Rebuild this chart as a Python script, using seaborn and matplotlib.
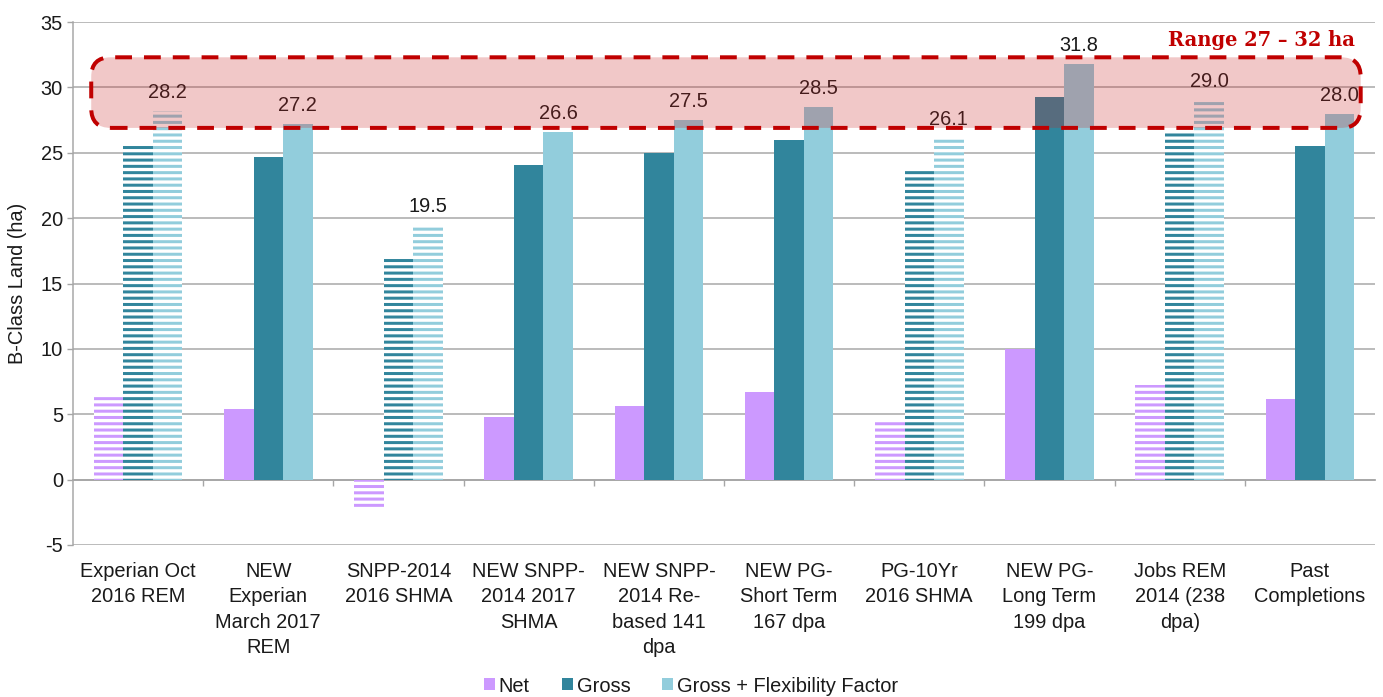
import matplotlib
matplotlib.use("Agg")
import matplotlib.pyplot as plt
import seaborn as sns
import pandas as pd
from matplotlib.patches import FancyBboxPatch, Patch

# ---- data -------------------------------------------------------------
categories = [
    "Experian Oct\n2016 REM",
    "NEW\nExperian\nMarch 2017\nREM",
    "SNPP-2014\n2016 SHMA",
    "NEW SNPP-\n2014 2017\nSHMA",
    "NEW SNPP-\n2014 Re-\nbased 141\ndpa",
    "NEW PG-\nShort Term\n167 dpa",
    "PG-10Yr\n2016 SHMA",
    "NEW PG-\nLong Term\n199 dpa",
    "Jobs REM\n2014 (238\ndpa)",
    "Past\nCompletions",
]
net = [6.3, 5.4, -2.1, 4.8, 5.6, 6.7, 4.4, 10.0, 7.2, 6.2]
gross = [25.7, 24.7, 17.0, 24.1, 25.0, 26.0, 23.6, 29.3, 26.5, 25.5]
gross_flex = [28.2, 27.2, 19.5, 26.6, 27.5, 28.5, 26.1, 31.8, 29.0, 28.0]
# scenarios from the 2016 studies are shown with striped bars
striped = [True, False, True, False, False, False, True, False, True, False]
series_names = ["Net", "Gross", "Gross + Flexibility Factor"]
y_ticks = [-5, 0, 5, 10, 15, 20, 25, 30, 35]
range_low, range_high = 27, 32

# ---- style ------------------------------------------------------------
DPI = 113
W_PX, H_PX = 1383, 697


def pt(px):
    """Convert a size in output pixels to points."""
    return px * 72 / DPI


colors = ["#cc99ff", "#31859c", "#92cddc"]
grid_grey = "#a6a6a6"
text_col = "#1a1a1a"
red = "#c00000"
fs = pt(20)

sns.set_style("white")
plt.rcParams["font.family"] = ["Liberation Sans", "DejaVu Sans"]
plt.rcParams["hatch.linewidth"] = pt(3.0)
plt.rcParams["text.color"] = text_col

fig = plt.figure(figsize=(W_PX / DPI, H_PX / DPI), dpi=DPI)
ax = fig.add_axes([73 / W_PX, 1 - 545 / H_PX, (1375 - 73) / W_PX, (545 - 22) / H_PX])

df = pd.DataFrame({
    "category": categories * 3,
    "series": [s for s in series_names for _ in categories],
    "value": net + gross + gross_flex,
})

sns.barplot(data=df, x="category", y="value", hue="series",
            order=categories, hue_order=series_names, palette=colors,
            width=0.68, saturation=1, linewidth=0, errorbar=None,
            legend=False, ax=ax, zorder=2)

# striped bars: white fill with horizontal hatch in the series colour
for ci, cont in enumerate(ax.containers):
    for i, bar in enumerate(cont):
        if striped[i]:
            bar.set_facecolor("white")
            bar.set_edgecolor(colors[ci])
            bar.set_hatch("---")
            bar.set_linewidth(0)

# value labels above the "Gross + Flexibility Factor" bars
for i, bar in enumerate(ax.containers[2]):
    ax.annotate(f"{gross_flex[i]:.1f}",
                xy=(bar.get_x() + bar.get_width() / 2, gross_flex[i]),
                xytext=(0, pt(13)), textcoords="offset points",
                ha="center", va="baseline", fontsize=fs, color=text_col,
                zorder=3)

# axes
ax.set_xlim(-0.5, len(categories) - 0.5)
ax.set_ylim(y_ticks[0], y_ticks[-1])
ax.set_yticks(y_ticks)
ax.set_yticklabels([str(t) for t in y_ticks])
ax.set_xticks(range(len(categories)))
ax.set_xticklabels(categories, fontsize=fs, linespacing=1.42, color=text_col)
ax.set_xlabel("")
ax.set_ylabel("")
ax.tick_params(axis="x", length=0, pad=pt(17), bottom=False)
ax.tick_params(axis="y", left=True, length=pt(6), width=pt(1.4), color=grid_grey,
               pad=pt(4), labelsize=fs, labelcolor=text_col)
ax.yaxis.grid(True, color=grid_grey, linewidth=pt(1.5))
ax.xaxis.grid(False)
ax.set_axisbelow(True)
for side in ("top", "right", "bottom"):
    ax.spines[side].set_visible(False)
ax.spines["left"].set_color(grid_grey)
ax.spines["left"].set_linewidth(pt(1.5))

# zero line with category separators
zero_loc = (0 - y_ticks[0]) / (y_ticks[-1] - y_ticks[0])
sec = ax.secondary_xaxis(zero_loc)
sec.set_xticks([i + 0.5 for i in range(len(categories) - 1)])
sec.tick_params(bottom=True, direction="out", length=pt(6), width=pt(1.4),
                color=grid_grey, labelbottom=False)
sec.spines["bottom"].set_color(grid_grey)
sec.spines["bottom"].set_linewidth(pt(1.8))

# highlighted range
x_per_y = (1302 / 10) / (523 / 40)
box = FancyBboxPatch((-0.36, range_low - 0.1), 9.75, range_high - range_low + 0.4,
                     boxstyle="round,pad=0,rounding_size=0.15",
                     mutation_aspect=x_per_y,
                     facecolor=(0.79, 0.145, 0.145, 0.25), edgecolor=red,
                     linewidth=pt(4), linestyle=(0, (4.2, 3.0)), zorder=4)
ax.add_patch(box)
ax.text(9.35, 33.6, f"Range {range_low} – {range_high} ha", ha="right",
        va="center", fontfamily="DejaVu Serif", fontweight="bold",
        fontsize=pt(19.5), color=red, zorder=5)

fig.text(18 / W_PX, 1 - 283 / H_PX, "B-Class Land (ha)", rotation=90,
         ha="center", va="center", fontsize=fs, color=text_col)

handles = [Patch(facecolor=c, edgecolor="none") for c in colors]
fig.legend(handles, series_names, loc="center",
           bbox_to_anchor=(691 / W_PX, 1 - 686 / H_PX), ncol=3, frameon=False,
           fontsize=fs, handlelength=0.55, handleheight=0.55,
           handletextpad=0.2, columnspacing=1.6)

fig.savefig("out.png", dpi=DPI)
